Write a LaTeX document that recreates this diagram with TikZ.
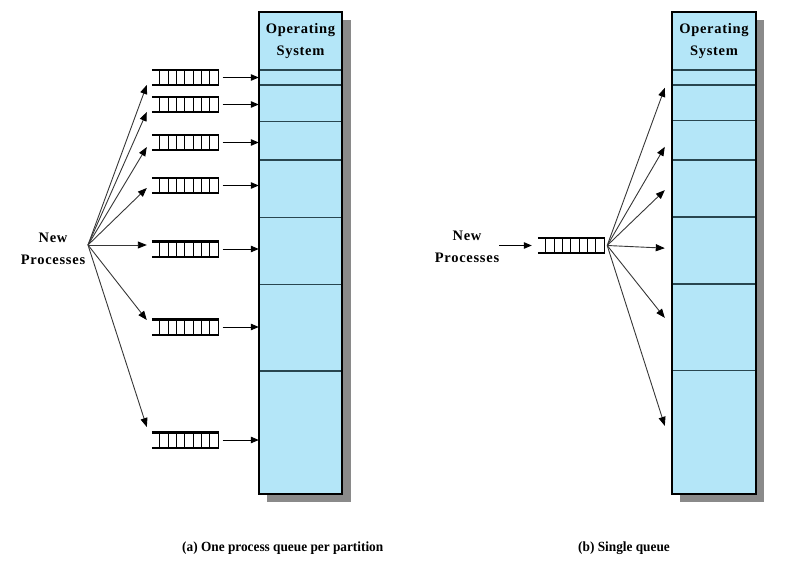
\documentclass[tikz,border=0pt]{standalone}
\usepackage{fontspec}
\setmainfont{Liberation Serif}
\newfontfamily\lblfont[LetterSpace=5]{Liberation Serif}
\newfontfamily\capfont[FakeStretch=0.95]{Liberation Serif}
\usetikzlibrary{arrows.meta,calc}

\definecolor{membg}{RGB}{180,230,248}
\definecolor{partline}{RGB}{40,70,80}
\definecolor{shadowgrey}{RGB}{138,138,138}
\definecolor{fanline}{RGB}{55,55,55}

\tikzset{
  part/.style={fill=membg, inner sep=0pt, minimum width=83pt},
  partsep/.style={draw=partline, line width=1.5pt},
  qbox/.style={inner sep=0pt, minimum width=67pt, minimum height=15pt},
  fan/.style={draw=fanline, line width=0.9pt, -{Triangle[length=9pt,width=7pt,color=black]}},
  feed/.style={draw=black, line width=1pt, -{Triangle[length=8pt,width=6.5pt]}},
  lbl/.style={font=\lblfont\bfseries\fontsize{14.5}{22.5}\selectfont, align=center, inner sep=0pt},
  captext/.style={font=\capfont\bfseries\fontsize{14}{16}\selectfont, inner sep=0pt, anchor=west},
}

\newcommand{\queuedraw}[1]{%
  \draw[line width=2.4pt] (#1.north west) -- (#1.north east);
  \draw[line width=2.4pt] (#1.south west) -- (#1.south east);
  \foreach \k in {0,...,7}
    \draw[line width=1pt] ($(#1.north west)+(8+\k*8.33,0)$) -- ($(#1.south west)+(8+\k*8.33,0)$);
}

\begin{document}
\begin{tikzpicture}[x=1pt,y=-1pt]
\useasboundingbox (0,0) rectangle (792,567);

% ---------- left diagram memory ----------
\fill[shadowgrey] (267,20) rectangle (350.5,502);
\foreach \t/\b [count=\i from 0] in {12/70,70/85,85/121.7,121.7/160,160/217.5,217.5/284.5,284.5/371,371/494}
  \node[part, minimum height={(\b-\t)*1pt}] (la\i) at (300.5,{(\t+\b)/2}) {};
\foreach \i in {1,...,7}
  \draw[partsep] (la\i.north west) -- (la\i.north east);
\draw[line width=2pt] (la0.north west) rectangle (la7.south east);
\node[lbl] (osa) at (la0.center) {Operating\\System};

% ---------- right diagram memory ----------
\fill[shadowgrey] (680,20) rectangle (764,502);
\foreach \t/\b [count=\i from 0] in {12/70,70/85,85/120.7,120.7/160,160/217.3,217.3/284,284/370.7,370.7/494}
  \node[part, minimum width=84pt, minimum height={(\b-\t)*1pt}] (lb\i) at (714,{(\t+\b)/2}) {};
\foreach \i in {1,...,7}
  \draw[partsep] (lb\i.north west) -- (lb\i.north east);
\draw[line width=2pt] (lb0.north west) rectangle (lb7.south east);
\node[lbl] (osb) at (lb0.center) {Operating\\System};

% ---------- left queues ----------
\foreach \y [count=\i] in {77.5,104.5,142.5,185.5,249,327,440} {
  \node[qbox] (qa\i) at (185.5,\y) {};
  \queuedraw{qa\i}
  \draw[feed, shorten <=3.5pt] (qa\i.east) -- (qa\i.east -| la\i.west);
}

\node[lbl] (npa) at (53,249) {New\\Processes};
\coordinate (fa) at (88,245);
\draw[fan] (fa) -- ([xshift=-5pt,yshift=-7.5pt]qa1.west);
\draw[fan] (fa) -- ([xshift=-5pt,yshift=-7.5pt]qa2.west);
\draw[fan] (fa) -- ([xshift=-5pt,yshift=-4.5pt]qa3.west);
\draw[fan] (fa) -- ([xshift=-5pt,yshift=-2.5pt]qa4.west);
\draw[fan] (fa) -- ([xshift=-5pt,yshift=4pt]qa5.west);
\draw[fan] (fa) -- ([xshift=-5pt,yshift=7pt]qa6.west);
\draw[fan] (fa) -- ([xshift=-5pt,yshift=13pt]qa7.west);

% ---------- right queue ----------
\node[qbox] (qb) at (571.5,245.5) {};
\queuedraw{qb}
\node[lbl] (npb) at (467,247) {New\\Processes};
\draw[feed, shorten >=6pt] (npb.east |- qb.west) -- (qb.west);
\coordinate (fb) at ([xshift=2pt]qb.east);
\draw[fan] (fb) -- ([xshift=-7pt,yshift=15pt]lb2.west);
\draw[fan] (fb) -- ([xshift=-7pt,yshift=-6.5pt]lb3.west);
\draw[fan] (fb) -- ([xshift=-7pt,yshift=-1.5pt]lb4.west);
\draw[fan] (fb) -- ([xshift=-7pt,yshift=2.5pt]lb5.west);
\draw[fan] (fb) -- ([xshift=-7pt,yshift=9.5pt]lb6.west);
\draw[fan] (fb) -- ([xshift=-7pt,yshift=6.5pt]lb7.west);

% ---------- captions ----------
\node[captext] (capa) at (182,548) {(a) One process queue per partition};
\node[captext] (capb) at (578,548) {(b) Single queue};
\end{tikzpicture}
\end{document}
